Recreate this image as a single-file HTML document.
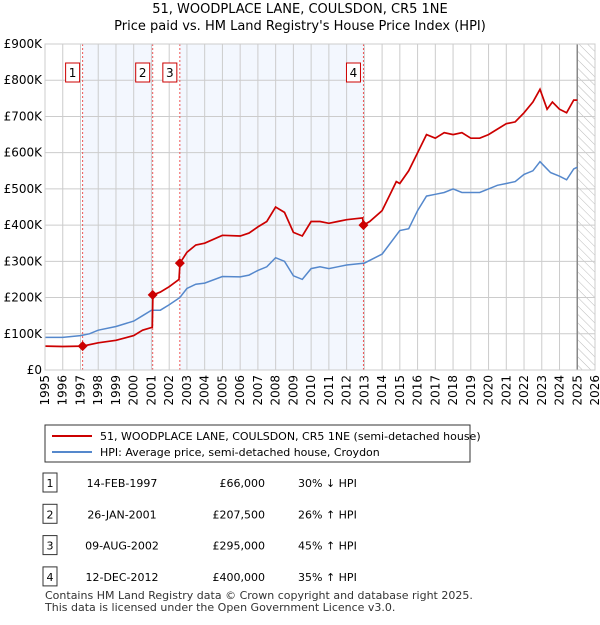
<!DOCTYPE html>
<html><head><meta charset="utf-8"><style>
body{margin:0;background:#fff;font-family:"Liberation Sans","DejaVu Sans",sans-serif;}
svg text{font-family:"DejaVu Sans","Liberation Sans",sans-serif;}
</style></head><body>
<svg id="c" width="600" height="620">
<defs><pattern id="hatch" width="6" height="6" patternUnits="userSpaceOnUse" patternTransform="rotate(-45)"><line x1="0" y1="0" x2="0" y2="6" stroke="#bbb" stroke-width="1"/></pattern></defs>
<text x="300" y="13" text-anchor="middle" font-size="13">51, WOODPLACE LANE, COULSDON, CR5 1NE</text>
<text x="300" y="30" text-anchor="middle" font-size="13">Price paid vs. HM Land Registry's House Price Index (HPI)</text>
<g id="plot"></g>
<rect x="45" y="425" width="425" height="37" fill="#fff" stroke="#333"/>
<line x1="52" y1="436" x2="92" y2="436" stroke="#cc0000" stroke-width="2"/>
<text x="100" y="440" font-size="11">51, WOODPLACE LANE, COULSDON, CR5 1NE (semi-detached house)</text>
<line x1="52" y1="452" x2="92" y2="452" stroke="#5588cc" stroke-width="2"/>
<text x="100" y="456" font-size="11">HPI: Average price, semi-detached house, Croydon</text>
<g id="tbl" font-size="11"></g>
<text x="45" y="599" font-size="11" fill="#333">Contains HM Land Registry data © Crown copyright and database right 2025.</text>
<text x="45" y="611" font-size="11" fill="#333">This data is licensed under the Open Government Licence v3.0.</text>
</svg>
<script>
const hpiYears=[1995,1996,1997,1997.5,1998,1999,2000,2000.5,2001,2001.5,2002,2002.6,2003,2003.5,2004,2005,2006,2006.5,2007,2007.5,2008,2008.5,2009,2009.5,2010,2010.5,2011,2011.5,2012,2013,2014,2015,2015.5,2016,2016.5,2017,2017.5,2018,2018.5,2019,2019.5,2020,2020.5,2021,2021.5,2022,2022.5,2022.9,2023.2,2023.5,2024,2024.4,2024.8,2025];
const hpiValues=[90,90,95,100,110,120,135,150,165,165,180,200,225,237,240,258,257,262,275,285,310,300,260,250,280,285,280,285,290,295,320,385,390,440,480,485,490,500,490,490,490,500,510,515,520,540,550,575,560,545,535,525,555,560];
const priceYears=[1995,1996,1997.12,1998,1999,2000,2000.5,2001.05,2001.08,2001.5,2002,2002.55,2002.61,2003,2003.5,2004,2005,2006,2006.5,2007,2007.5,2008,2008.5,2009,2009.5,2010,2010.5,2011,2011.5,2012,2012.9,2012.95,2013.3,2014,2014.5,2014.8,2015,2015.5,2016,2016.5,2017,2017.5,2018,2018.5,2019,2019.5,2020,2020.5,2021,2021.5,2022,2022.5,2022.9,2023.3,2023.6,2024,2024.4,2024.8,2025];
const priceValues=[66,65,66,75,82,95,110,118,207,215,230,250,295,325,345,350,372,370,378,395,410,450,435,380,370,410,410,405,410,415,420,400,410,440,490,520,515,550,600,650,640,655,650,655,640,640,650,665,680,685,710,740,775,720,740,720,710,745,745];
const saleYears=[1997.12,2001.07,2002.6,2012.95];
const saleValues=[66,207.5,295,400];
const saleLabels=["1","2","3","4"];
const saleDates=["14-FEB-1997","26-JAN-2001","09-AUG-2002","12-DEC-2012"];
const salePrices=["£66,000","£207,500","£295,000","£400,000"];
const saleHpi=["30% ↓ HPI","26% ↑ HPI","45% ↑ HPI","35% ↑ HPI"];
const yTicks=[0,100,200,300,400,500,600,700,800,900];
const yTickLabels=["£0","£100K","£200K","£300K","£400K","£500K","£600K","£700K","£800K","£900K"];
const xTicks=[1995,1996,1997,1998,1999,2000,2001,2002,2003,2004,2005,2006,2007,2008,2009,2010,2011,2012,2013,2014,2015,2016,2017,2018,2019,2020,2021,2022,2023,2024,2025,2026];

const NS="http://www.w3.org/2000/svg";
const X0=45,X1=595,Y0=370,Y1=44;
const xs=y=>X0+(y-1995)/(2026-1995)*(X1-X0);
const ys=v=>Y0-v/900*(Y0-Y1);
const g=document.getElementById('plot');
function mk(t,a,p){const e=document.createElementNS(NS,t);for(const k in a)e.setAttribute(k,a[k]);(p||g).appendChild(e);return e;}
let e;
e=mk('rect',{x:xs(saleYears[0]),y:Y1,width:xs(saleYears[1])-xs(saleYears[0]),height:Y0-Y1,fill:'#eef3fd',opacity:0.7});


e=mk('rect',{x:xs(saleYears[2]),y:Y1,width:xs(saleYears[3])-xs(saleYears[2]),height:Y0-Y1,fill:'#eef3fd',opacity:0.7});


e=mk('rect',{x:xs(2025),y:Y1,width:X1-xs(2025),height:Y0-Y1,fill:'url(#hatch)'});


yTicks.forEach((v,i)=>{
 e=mk('line',{x1:X0,x2:X1,y1:ys(v),y2:ys(v),stroke:'#ccc'});
 
 
 e=mk('text',{x:X0-3,y:ys(v)+4,'text-anchor':'end','font-size':12});
 e.textContent=yTickLabels[i];
 
 
});
xTicks.forEach(yr=>{
 e=mk('line',{x1:xs(yr),x2:xs(yr),y1:Y1,y2:Y0,stroke:'#ccc'});
 
 
 e=mk('text',{transform:`translate(${xs(yr)+4},${Y0+5}) rotate(-90)`,'text-anchor':'end','font-size':12});
 e.textContent=yr;
 
 
});
e=mk('line',{x1:xs(2025),x2:xs(2025),y1:Y1,y2:Y0,stroke:'#888','stroke-width':1.5});


saleYears.forEach((yr,i)=>{
 e=mk('line',{x1:xs(yr),x2:xs(yr),y1:Y1,y2:Y0,stroke:'#ee5555','stroke-dasharray':'2,2'});
 
 
});
const pts=(a,b)=>a.map((yr,i)=>xs(yr).toFixed(1)+','+ys(b[i]).toFixed(1)).join(' ');
e=mk('polyline',{points:pts(hpiYears,hpiValues),fill:'none',stroke:'#5588cc','stroke-width':1.5});


e=mk('polyline',{points:pts(priceYears,priceValues),fill:'none',stroke:'#cc0000','stroke-width':1.7});


saleYears.forEach((yr,i)=>{
 const cx=xs(yr),cy=ys(saleValues[i]);
 e=mk('polygon',{points:`${cx},${cy-5} ${cx+5},${cy} ${cx},${cy+5} ${cx-5},${cy}`,fill:'#cc0000'});
 
 
 e=mk('rect',{x:cx-17,y:63,width:14,height:19,fill:'#fff',stroke:'#cc0000'});
 
 
 e=mk('text',{x:cx-10,y:77,'text-anchor':'middle','font-size':12});
 e.textContent=saleLabels[i];
 
 
});
e=mk('rect',{x:X0,y:Y1,width:X1-X0,height:Y0-Y1,fill:'none',stroke:'#ccc'});


const t=document.getElementById('tbl');
saleLabels.forEach((l,i)=>{
 const y=483+i*31.3;
 e=mk('rect',{x:43,y:y-10,width:14,height:19,fill:'#fff',stroke:'#333'},t);
 
 
 e=mk('text',{x:50,y:y+4,'text-anchor':'middle'},t);e.textContent=l;
 
 
 e=mk('text',{x:122,y:y+4,'text-anchor':'middle'},t);e.textContent=saleDates[i];
 
 
 e=mk('text',{x:265,y:y+4,'text-anchor':'end'},t);e.textContent=salePrices[i];
 
 
 e=mk('text',{x:298,y:y+4},t);e.textContent=saleHpi[i];
 
 
});
</script>
</body></html>
